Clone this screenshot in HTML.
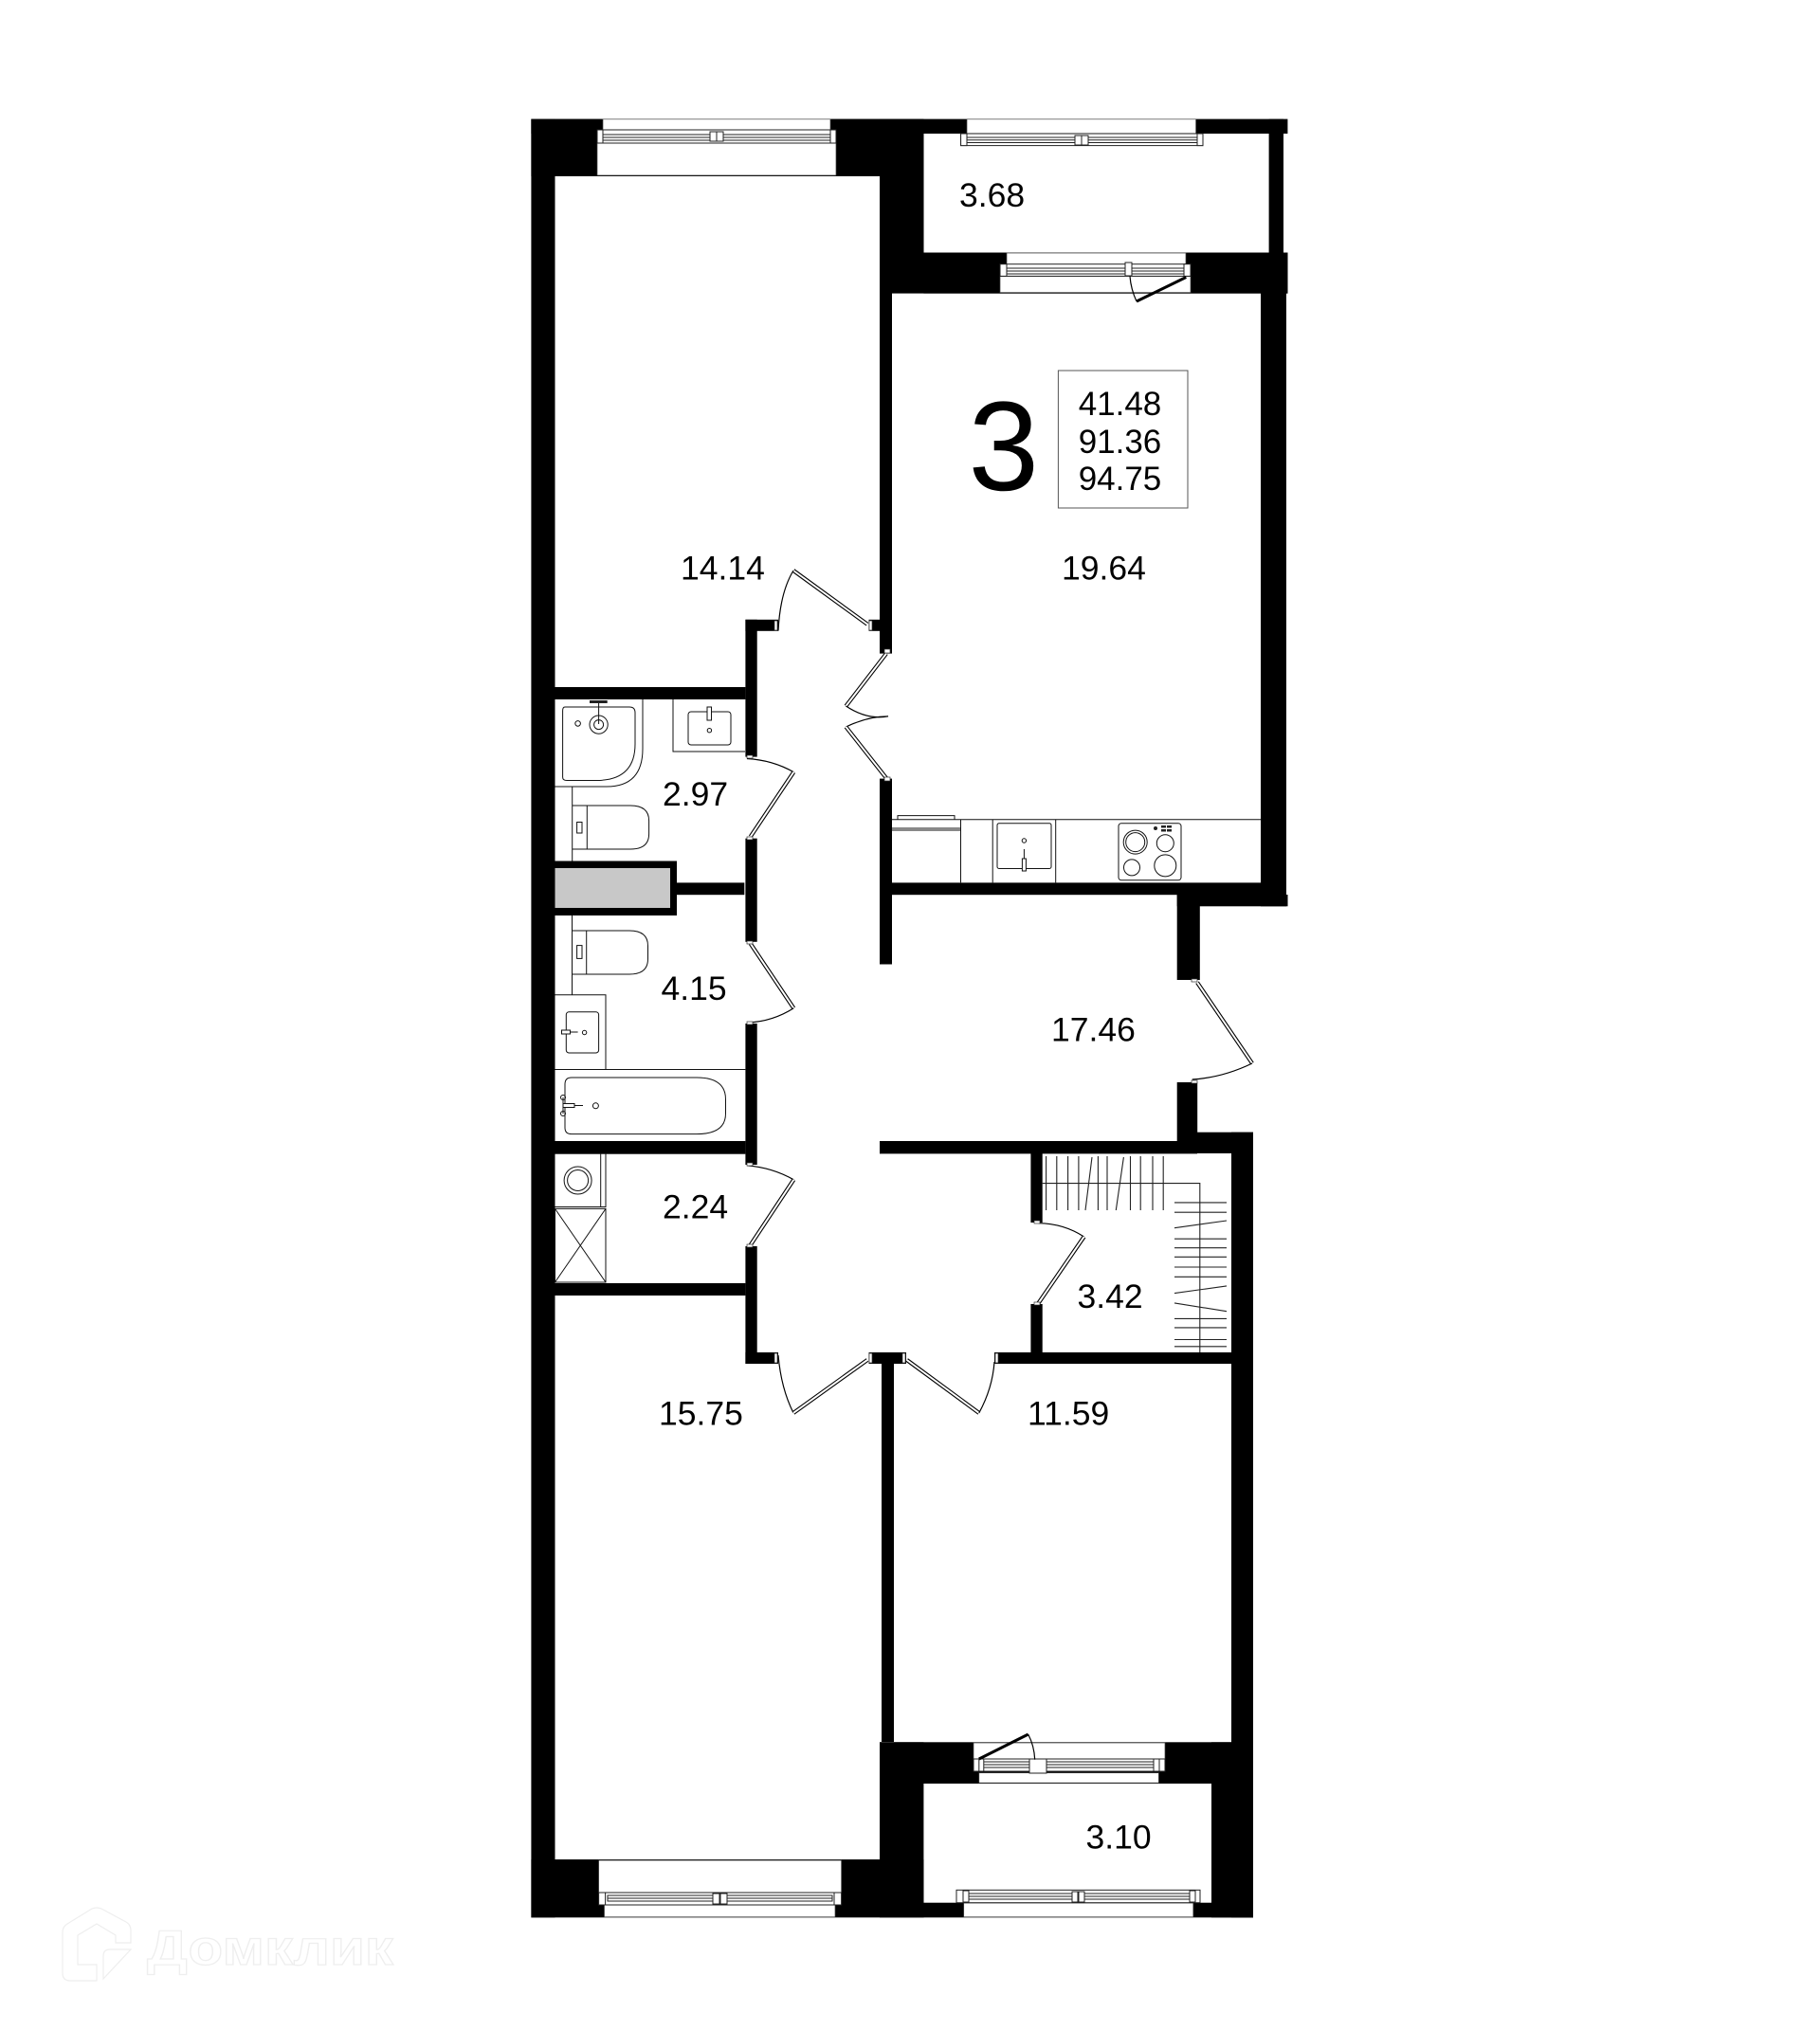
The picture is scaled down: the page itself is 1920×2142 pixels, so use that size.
<!DOCTYPE html>
<html><head><meta charset="utf-8"><style>
html,body{margin:0;padding:0;background:#fff}
svg{display:block}
text{font-family:"Liberation Sans",sans-serif;fill:#000}
.f{fill:none;stroke:#111;stroke-width:1}
.l{stroke:#333;stroke-width:1;fill:none}
.d{fill:none;stroke:#000;stroke-width:4.2}
.w{fill:none;stroke:#fff;stroke-width:2}
.a{fill:none;stroke:#000;stroke-width:1.2}
.fr{fill:#fff;stroke:#222;stroke-width:1}
</style></head><body>
<svg xmlns="http://www.w3.org/2000/svg" width="1920" height="2142" viewBox="0 0 1920 2142">
<rect width="1920" height="2142" fill="#fff"/>

<!-- watermark -->
<g fill="#fff" stroke="#eeeeee" stroke-width="1.2">
<path d="M138 2050V2037Q138 2031 133 2028L107 2014Q102 2012 97 2014L71 2030Q66 2033 66 2039V2082Q66 2090 74 2090H102V2073H82V2042L102 2030L122 2042V2050Z"/>
<path d="M138 2057H116Q109 2057 109 2064V2088Z"/>
<text x="155" y="2073" font-size="52" font-weight="700" textLength="260" lengthAdjust="spacingAndGlyphs" style="fill:#fff">Домклик</text>
</g>

<!-- walls -->
<g fill="#000">
<rect x="560.4" y="125.6" width="25.1" height="1897.7"/>
<rect x="560.4" y="125.6" width="798" height="15.4"/>
<rect x="560.4" y="125.6" width="414" height="60.4"/>
<rect x="928" y="125.6" width="46.5" height="184"/>
<rect x="974.5" y="266.5" width="384" height="43.2"/>
<rect x="1338.6" y="125.6" width="15.4" height="142"/>
<rect x="1330" y="309" width="27" height="647.3"/>
<rect x="928" y="186" width="13" height="503.6"/>
<rect x="928" y="821.6" width="13" height="195.9"/>
<rect x="928" y="931.4" width="402" height="12.8"/>
<rect x="1241.7" y="944" width="116.8" height="12.3"/>
<rect x="1241.7" y="944" width="24.1" height="90"/>
<rect x="1241.7" y="1142" width="21.5" height="75"/>
<rect x="1263" y="1194.7" width="59" height="22.3"/>
<rect x="928" y="1204" width="335" height="13.4"/>
<rect x="1299" y="1194.7" width="23" height="828.6"/>
<rect x="1087.4" y="1217" width="12.3" height="73"/>
<rect x="1087.4" y="1376" width="12.3" height="52"/>
<rect x="1049" y="1427" width="250" height="12"/>
<rect x="916.5" y="1427" width="39.5" height="12"/>
<rect x="930" y="1427" width="13" height="411"/>
<rect x="786.4" y="653.8" width="12.3" height="144.8"/>
<rect x="786.4" y="653.8" width="34.6" height="12"/>
<rect x="916.5" y="653.8" width="11.5" height="12"/>
<rect x="786.4" y="884.7" width="12.3" height="109.1"/>
<rect x="786.4" y="1080" width="12.3" height="149"/>
<rect x="786.4" y="1315" width="12.3" height="124"/>
<rect x="786.4" y="1427" width="34.6" height="12"/>
<rect x="585" y="725" width="201.4" height="13"/>
<rect x="714" y="931.4" width="71.3" height="12.8"/>
<rect x="585" y="1204" width="201.4" height="13.7"/>
<rect x="585" y="1354" width="201.4" height="13"/>
<rect x="585" y="908.5" width="129" height="57.5"/>
<rect x="560.4" y="1962" width="414" height="61.3"/>
<rect x="928" y="1838.3" width="46.4" height="185"/>
<rect x="928" y="1838.3" width="394" height="43.7"/>
<rect x="1278" y="1838.3" width="44" height="185"/>
<rect x="974" y="2007.7" width="348" height="15.6"/>
</g>
<rect x="585.5" y="916" width="121.5" height="42" fill="#c8c8c8"/>

<!-- window openings -->
<g fill="#fff" stroke="#444" stroke-width=".7">
<rect x="636" y="125.8" width="240" height="11.5"/>
<rect x="630" y="151" width="252" height="34"/>
<rect x="1020" y="125.8" width="241.6" height="15"/>
<rect x="1062" y="267" width="189" height="12"/>
<rect x="1055" y="291.4" width="201" height="17.2"/>
<rect x="631.6" y="1963" width="256" height="34.3"/>
<rect x="637.5" y="2010" width="243.5" height="12.7"/>
<rect x="1027" y="1839" width="202" height="17.7"/>
<rect x="1032.8" y="1870.7" width="189.6" height="10.5"/>
<rect x="1016.7" y="2008" width="242.1" height="14.7"/>
</g>

<!-- window frames -->
<g class="fr">
<rect x="630" y="137" width="252" height="14"/><rect x="636" y="142" width="240" height="6" fill="none"/><line x1="636" y1="145" x2="876" y2="145"/><rect x="630" y="137" width="6" height="14"/><rect x="876" y="137" width="6" height="14"/><rect x="749" y="139" width="7" height="10"/><rect x="756" y="139" width="7" height="10"/>
<rect x="1013.6" y="141" width="255.4" height="12.6"/><rect x="1020" y="145" width="243" height="5.5" fill="none"/><line x1="1020" y1="147.8" x2="1263" y2="147.8"/><rect x="1013.6" y="141" width="6.4" height="12.6"/><rect x="1263" y="141" width="6" height="12.6"/><rect x="1134" y="143" width="7" height="10"/><rect x="1141" y="143" width="7" height="10"/>
<rect x="1055" y="278.7" width="201" height="12.7"/><rect x="1062" y="283" width="187" height="6" fill="none"/><line x1="1062" y1="286" x2="1249" y2="286"/><rect x="1055" y="278.7" width="7" height="12.7"/><rect x="1249" y="278.7" width="7" height="12.7"/><rect x="1187" y="277" width="7" height="14"/>
<rect x="631.6" y="1997" width="256" height="13"/><rect x="641" y="2000" width="237" height="6" fill="none"/><line x1="641" y1="2003" x2="878" y2="2003"/><rect x="631.6" y="1997" width="7" height="13"/><rect x="880" y="1997" width="7.6" height="13"/><rect x="752" y="1998" width="7" height="11"/><rect x="760" y="1998" width="7" height="11"/>
<rect x="1027" y="1856" width="202" height="13"/><rect x="1037" y="1859" width="183" height="6" fill="none"/><line x1="1037" y1="1862" x2="1220" y2="1862"/><rect x="1032.8" y="1856" width="5" height="13"/><rect x="1217" y="1856" width="6" height="13"/><rect x="1086" y="1856" width="18" height="15"/>
<rect x="1009" y="1994.3" width="257" height="13.4"/><rect x="1022" y="1998" width="236" height="6" fill="none"/><line x1="1022" y1="2001" x2="1258" y2="2001"/><rect x="1016" y="1995" width="6" height="12"/><rect x="1255" y="1995" width="6" height="12"/><rect x="1131" y="1996" width="6" height="11"/><rect x="1138" y="1996" width="6" height="11"/>
</g>

<!-- doors -->
<g>
<path class="d" d="M915 658.7L837 602"/><path class="w" d="M915 658.7L837 602"/><path class="a" d="M837 602Q823 625 821 665.6"/>
<path class="d" d="M935 689.6L892.4 745"/><path class="w" d="M935 689.6L892.4 745"/><path class="a" d="M892.4 745Q915 760 937 755.8Q915 756 892.4 767"/>
<path class="d" d="M892.4 767L935 821"/><path class="w" d="M892.4 767L935 821"/>
<path class="a" d="M788 800.5Q815 802 837.3 814.7"/><path class="d" d="M837.3 814.7L791.7 882.8"/><path class="w" d="M837.3 814.7L791.7 882.8"/>
<path class="d" d="M791.7 995.7L837.3 1063.8"/><path class="w" d="M791.7 995.7L837.3 1063.8"/><path class="a" d="M837.3 1063.8Q815 1078 789 1079"/>
<path class="a" d="M788 1229.8Q815 1232 837.3 1244.8"/><path class="d" d="M837.3 1244.8L791.7 1313.7"/><path class="w" d="M837.3 1244.8L791.7 1313.7"/>
<path class="a" d="M821 1430Q824 1465 837 1490.9"/><path class="d" d="M837 1490.9L915 1435"/><path class="w" d="M837 1490.9L915 1435"/>
<path class="d" d="M956.7 1435L1032.8 1490.9"/><path class="w" d="M956.7 1435L1032.8 1490.9"/><path class="a" d="M1032.8 1490.9Q1047 1465 1049 1437"/>
<path class="d" d="M1263 1036.7L1321 1122"/><path class="w" d="M1263 1036.7L1321 1122"/><path class="a" d="M1321 1122Q1290 1137 1257.7 1139"/>
<path class="a" d="M1095.5 1290.7Q1122 1291 1143.6 1305"/><path class="d" d="M1143.6 1305L1095.5 1375"/><path class="w" d="M1143.6 1305L1095.5 1375"/>
<path d="M1251.3 292.5L1199 318" fill="none" stroke="#000" stroke-width="3"/><path class="a" d="M1192 291.4Q1193 305 1199 318"/>
<path d="M1032.8 1856L1084.7 1830" fill="none" stroke="#000" stroke-width="3"/><path class="a" d="M1084.7 1830Q1091 1842 1091.7 1856.7"/>
</g>
<g fill="#fff" stroke="#333" stroke-width=".7">
<rect x="933" y="685" width="6" height="4"/><rect x="933" y="820" width="6" height="4"/>
<rect x="788" y="797" width="6" height="3"/><rect x="788" y="883" width="6" height="3"/>
<rect x="788" y="993" width="6" height="3"/><rect x="788" y="1078" width="6" height="3"/>
<rect x="788" y="1227" width="6" height="3"/><rect x="788" y="1313" width="6" height="3"/>
<rect x="1091" y="1288" width="6" height="3"/><rect x="1091" y="1374" width="6" height="3"/>
<rect x="1257" y="1033" width="6" height="3"/><rect x="1257" y="1140" width="6" height="3"/>
<rect x="817" y="1428" width="3" height="10"/><rect x="917" y="1428" width="3" height="10"/><rect x="952" y="1428" width="3" height="10"/><rect x="1050" y="1428" width="3" height="10"/>
<rect x="817" y="655" width="3" height="10"/><rect x="917" y="655" width="3" height="10"/>
</g>

<!-- shower -->
<g class="f">
<path d="M585.5 830H640Q678 830 678 790V738"/>
<path d="M596 746H664Q670 746 670 752V785Q670 823 630 823.5H598Q593.6 823.5 593.6 820V750Q593.6 746 596 746Z"/>
<circle cx="631.6" cy="764.6" r="9.6"/><circle cx="631.6" cy="764.6" r="5"/><circle cx="609.6" cy="763.4" r="2.8"/>
<line x1="631.6" y1="742" x2="631.6" y2="764"/>
</g>
<rect x="622" y="739" width="18.7" height="3" fill="#222"/>
<!-- sink 1 -->
<g class="f">
<path d="M710 738V793H786"/>
<rect x="726" y="751" width="45" height="35" rx="3"/>
<circle cx="748.4" cy="770.7" r="2.2"/>
</g>
<rect x="746" y="746" width="4.5" height="14" fill="#fff" stroke="#111"/>
<!-- toilet 1 -->
<g class="f">
<line x1="603.7" y1="830" x2="603.7" y2="908.5"/>
<path d="M603.7 850H665Q684.6 850 684.6 866V880Q684.6 896 665 896H603.7"/>
<line x1="619.3" y1="850" x2="619.3" y2="896"/>
<rect x="608.6" y="867.5" width="5.4" height="11.5"/>
</g>
<!-- toilet 2 -->
<g class="f">
<line x1="603.5" y1="966" x2="603.5" y2="1049.7"/>
<path d="M603 982H664Q683.5 982 683.5 998V1012Q683.5 1028 664 1028H603"/>
<line x1="618.7" y1="982" x2="618.7" y2="1028"/>
<rect x="608.6" y="997.6" width="5.4" height="13.8"/>
</g>
<!-- sink 2 -->
<g class="f">
<path d="M585.5 1049.7H639V1128.5"/>
<rect x="597.3" y="1067.7" width="34.3" height="43.3" rx="3"/>
<rect x="592.5" y="1087" width="9" height="4" fill="#fff"/><line x1="601" y1="1089" x2="609.6" y2="1089"/>
<circle cx="616.6" cy="1089.5" r="2.2"/>
<line x1="585.5" y1="1128.5" x2="786.4" y2="1128.5"/>
</g>
<!-- bath -->
<g class="f">
<path d="M603 1137H735Q765.5 1137 765.5 1160V1175Q765.5 1196.6 735 1196.6H603Q596 1196.6 596 1190V1144Q596 1137 603 1137Z"/>
<circle cx="628.4" cy="1166.8" r="3"/>
<circle cx="594" cy="1158" r="2.5"/><circle cx="594" cy="1175" r="2.5"/><line x1="594" y1="1158" x2="594" y2="1175"/>
<rect x="594" y="1164.5" width="12" height="4" fill="#fff"/><line x1="606" y1="1166.5" x2="615" y2="1166.5"/>
</g>
<!-- washer -->
<g class="f">
<path d="M585.5 1273.5H639V1217"/><line x1="633.7" y1="1217" x2="633.7" y2="1273.5"/>
<ellipse cx="609.6" cy="1245.5" rx="14.5" ry="14.5"/><ellipse cx="609.6" cy="1245.5" rx="11" ry="11"/>
<rect x="585.5" y="1275.4" width="53.5" height="77.6"/>
<path d="M585.5 1275.4L639 1353M639 1275.4L585.5 1353"/>
</g>
<!-- kitchen -->
<g class="f">
<line x1="941" y1="864.8" x2="1330" y2="864.8"/>
<path d="M947 864.8V860.6H1007V864.8"/>
<path d="M941 874H1013.5"/><line x1="941" y1="876" x2="1013.5" y2="876"/>
<line x1="1013.5" y1="864.8" x2="1013.5" y2="931.4"/>
<line x1="1047.2" y1="864.8" x2="1047.2" y2="931.4"/>
<line x1="1113.7" y1="864.8" x2="1113.7" y2="931.4"/>
<rect x="1052" y="868.7" width="57" height="47.8" rx="2"/>
<circle cx="1080.4" cy="887" r="2.2"/>
<rect x="1078.4" y="906" width="4" height="13" fill="#fff"/><line x1="1080.4" y1="896" x2="1080.4" y2="906"/>
<rect x="1180" y="868.7" width="66" height="60.1" rx="3"/>
<circle cx="1197.7" cy="888.6" r="12.5"/><circle cx="1197.7" cy="888.6" r="10"/>
<circle cx="1229.3" cy="889.7" r="9"/><circle cx="1194" cy="915.4" r="8.5"/><circle cx="1229.3" cy="913.4" r="11.5"/>
</g>
<g fill="#222"><circle cx="1219" cy="874" r="2"/><rect x="1225" y="871" width="5" height="2.5"/><rect x="1231" y="871" width="5" height="2.5"/><rect x="1225" y="875" width="5" height="2.5"/><rect x="1231" y="875" width="5" height="2.5"/></g>
<!-- wardrobe -->
<g stroke="#222" stroke-width="1.1" fill="none">
<path d="M1099.7 1248.6H1265.8V1427"/>
<path d="M1103.6 1220V1277M1114.8 1220V1277M1126.6 1220V1277M1137.9 1220V1277M1152 1221L1145 1277M1158.4 1220V1277M1168 1220V1277M1185.4 1221L1177.3 1277M1192.5 1220V1277M1203.2 1220V1277M1216 1220V1277M1227.2 1220V1277"/>
<path d="M1239 1268.9H1294M1239 1279.2H1294M1239 1295.7L1294 1288M1239 1307.2H1294M1239 1316.7H1294M1239 1326.3H1294M1239 1337H1294M1239 1347.3H1294M1239 1364.6L1294 1356.9M1239 1374.9L1294 1383.7M1239 1391.4H1294M1239 1400.9H1294M1239 1413.5H1294M1239 1420.8H1294"/>
</g>

<!-- label box -->
<rect x="1116.4" y="391" width="136.6" height="145" fill="none" stroke="#555" stroke-width="1"/>

<!-- text -->
<g font-size="35.5">
<text x="718" y="611.5">14.14</text>
<text x="1120" y="611.5">19.64</text>
<text x="1012" y="218">3.68</text>
<text x="699" y="850">2.97</text>
<text x="697.5" y="1055">4.15</text>
<text x="1109" y="1098.5">17.46</text>
<text x="699" y="1285.5">2.24</text>
<text x="1136.5" y="1380">3.42</text>
<text x="695" y="1503.5">15.75</text>
<text x="1084" y="1503.5">11.59</text>
<text x="1145.5" y="1950.5">3.10</text>
<text x="1137.7" y="438.2" font-size="35">41.48</text>
<text x="1137.7" y="478" font-size="35">91.36</text>
<text x="1137.7" y="517" font-size="35">94.75</text>
</g>
<text x="1021.5" y="517" font-size="134">3</text>
</svg>
</body></html>
